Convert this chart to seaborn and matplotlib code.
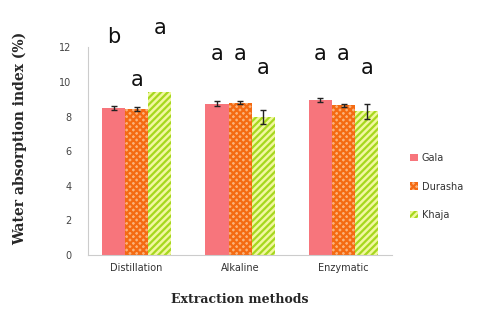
import numpy as np
import pandas as pd
import matplotlib
matplotlib.use("Agg")
import matplotlib.pyplot as plt
import seaborn as sns

#%% dati
methods = ["Distillation", "Alkaline", "Enzymatic"]
varieties = ["Gala", "Durasha", "Khaja"]
gala = [8.5, 8.75, 8.95]
durasha = [8.45, 8.8, 8.65]
khaja = [9.4, 7.95, 8.3]
gala_err = [0.1, 0.12, 0.12]
durasha_err = [0.12, 0.08, 0.08]
khaja_err = [0.0, 0.4, 0.45]
letters_gala = ["b", "a", "a"]
letters_durasha = ["a", "a", "a"]
letters_khaja = ["a", "a", "a"]
letter_y_gala = [12.6, 11.6, 11.6]
letter_y_durasha = [10.1, 11.6, 11.6]
letter_y_khaja = [13.1, 10.8, 10.8]

df = pd.DataFrame({
    "method": methods * 3,
    "variety": [v for v in varieties for _ in methods],
    "value": gala + durasha + khaja,
    "err": gala_err + durasha_err + khaja_err,
    "letter": letters_gala + letters_durasha + letters_khaja,
    "ly": letter_y_gala + letter_y_durasha + letter_y_khaja,
})

#%% plot
sns.set_style("white")
plt.rcParams["hatch.linewidth"] = 1.6
fig, ax = plt.subplots(figsize=(4.9, 3.15), dpi=100)
fig.subplots_adjust(left=0.18, right=0.80, top=0.85, bottom=0.19)

face = {"Gala": "#f7757c", "Durasha": "#fbb27a", "Khaja": "#f2f7a0"}
edge = {"Gala": "#f7757c", "Durasha": "#f46a12", "Khaja": "#a6d81e"}
hatch = {"Gala": "", "Durasha": "xxxxx", "Khaja": "/////"}

sns.barplot(data=df, x="method", y="value", hue="variety", order=methods,
            hue_order=varieties, palette=face, width=0.67, errorbar=None,
            saturation=1, ax=ax)

for cont, var in zip(ax.containers, varieties):
    sub = df[df["variety"] == var].set_index("method").loc[methods]
    for bar, (_, row) in zip(cont, sub.iterrows()):
        bar.set_hatch(hatch[var])
        bar.set_edgecolor(edge[var])
        bar.set_linewidth(0)
        xc = bar.get_x() + bar.get_width() / 2
        if row["err"] > 0:
            ax.errorbar(xc, row["value"], yerr=row["err"], color="#222222",
                        capsize=2.5, elinewidth=1, capthick=1)
        ax.text(xc, row["ly"], row["letter"], ha="center", va="center",
                fontsize=15, color="#111111", clip_on=False)

ax.set_ylim(0, 12)
ax.set_yticks(range(0, 13, 2))
ax.tick_params(axis="y", labelsize=7, colors="#444444", length=0, pad=12)
ax.tick_params(axis="x", labelsize=7, colors="#333333", length=0, pad=6)
for s in ["top", "right"]:
    ax.spines[s].set_visible(False)
ax.spines["left"].set_color("#cccccc")
ax.spines["bottom"].set_color("#cccccc")

ax.set_xlabel("Extraction methods", fontsize=9, fontweight="bold",
              family="serif", labelpad=14)
ax.set_ylabel("Water absorption index (%)", fontsize=10, fontweight="bold",
              family="serif", labelpad=2)
ax.yaxis.set_label_coords(-0.2, 0.56)

leg = ax.legend(loc="center left", bbox_to_anchor=(1.03, 0.33), frameon=False,
                fontsize=7, handlelength=0.8, handleheight=0.8,
                labelspacing=1.9, handletextpad=0.4, labelcolor="#333333")
for h, var in zip(leg.legend_handles, varieties):
    h.set_hatch(hatch[var])
    h.set_edgecolor(edge[var])
    h.set_linewidth(0)

fig.savefig("out.png", dpi=100)
